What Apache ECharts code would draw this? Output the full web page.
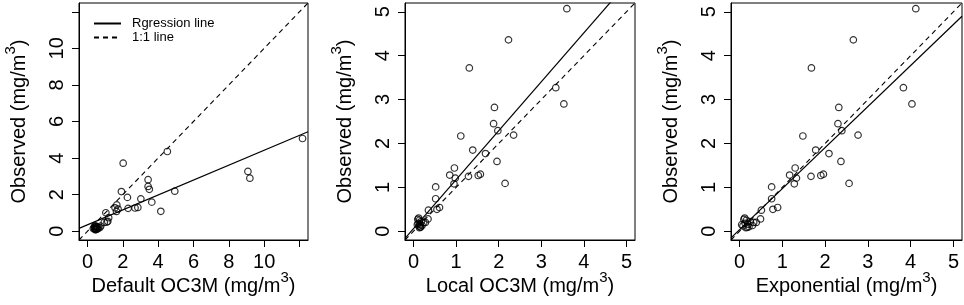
<!DOCTYPE html>
<html>
<head>
<meta charset="utf-8">
<script src="https://cdn.jsdelivr.net/npm/echarts@6/dist/echarts.min.js"></script>
<style>
  html, body { margin: 0; padding: 0; background: #fff; }
  #chart { width: 964px; height: 305px; }
</style>
</head>
<body>
<div id="chart"></div>
<script>
// observed chlorophyll (same for the three panels)
const observed = [5.07, 4.36, 3.72, 3.27, 2.90, 2.82, 2.45, 2.29, 2.19, 2.17,
  1.85, 1.77, 1.59, 1.44, 1.28, 1.21, 1.25, 1.27, 1.30, 1.08,
  1.09, 1.01, 0.74, 0.48, 0.50, 0.54, 0.28, 0.20,
  0.30, 0.27, 0.25, 0.22, 0.20, 0.18, 0.16, 0.15, 0.13, 0.12, 0.10, 0.09, 0.08]

// estimates from each algorithm
const defaultOC3M = [12.17, 4.52, 2.02, 9.08, 9.19, 3.43, 3.43, 3.50, 4.94, 1.92,
  2.26, 3.02, 3.64, 1.66, 1.56, 1.73, 2.30, 2.69, 2.85, 1.64,
  4.15, 1.04, 1.20, 0.95, 1.10, 1.15, 0.75, 0.70,
  0.45, 0.40, 0.50, 0.55, 0.62, 0.38, 0.48, 0.33, 0.58, 0.42, 0.52, 0.46, 0.44]
const localOC3M = [3.60, 2.23, 1.31, 3.34, 3.53, 1.90, 1.88, 1.98, 2.35, 1.11,
  1.39, 1.69, 1.96, 0.96, 0.85, 0.98, 1.29, 1.52, 1.57, 0.95,
  2.15, 0.52, 0.52, 0.35, 0.55, 0.61, 0.34, 0.28,
  0.12, 0.10, 0.14, 0.18, 0.24, 0.11, 0.15, 0.09, 0.20, 0.13, 0.17, 0.16, 0.14]
const exponential = [4.12, 2.66, 1.68, 3.83, 4.03, 2.32, 2.30, 2.39, 2.77, 1.48,
  1.78, 2.09, 2.37, 1.30, 1.17, 1.33, 1.67, 1.90, 1.96, 1.28,
  2.56, 0.75, 0.75, 0.51, 0.78, 0.89, 0.49, 0.39,
  0.12, 0.10, 0.16, 0.25, 0.33, 0.13, 0.20, 0.05, 0.30, 0.08, 0.22, 0.18, 0.15]

// fitted regression (observed = a + b * estimate)
const regIntercept = [0.35, 0.06, 0.035]
const regSlope = [0.408, 1.115, 0.935]

// axis limits (R pads the range by 4%)
const axisLimit = [12, 5, 5]
const tickValues = [[0, 2, 4, 6, 8, 10, 12], [0, 1, 2, 3, 4, 5], [0, 1, 2, 3, 4, 5]]
const labelValues = [[0, 2, 4, 6, 8, 10], [0, 1, 2, 3, 4, 5], [0, 1, 2, 3, 4, 5]]
const xNames = ['Default OC3M', 'Local OC3M', 'Exponential']

const estimates = [defaultOC3M, localOC3M, exponential]
const font = 'Liberation Sans, Arial, sans-serif'
// superscript "3": a smaller token pushed to the top of a taller line
const nameRich = {
  t: { fontSize: 20, fontFamily: font, color: '#000', lineHeight: 26, verticalAlign: 'bottom' },
  sup: { fontSize: 15, fontFamily: font, color: '#000', verticalAlign: 'top' }
}

const grids = [
  { left: 79, top: 3, width: 229, height: 237 },
  { left: 405, top: 3, width: 230, height: 237 },
  { left: 731, top: 3, width: 231, height: 237 }
]

function axisBase (i) {
  const pad = axisLimit[i] * 0.04
  return {
    type: 'value',
    gridIndex: i,
    min: -pad,
    max: axisLimit[i] + pad,
    splitLine: { show: false },
    axisLine: { show: true, onZero: false, lineStyle: { color: '#000', width: 1 } },
    axisTick: { show: true, length: 7, customValues: tickValues[i], lineStyle: { color: '#000' } },
    axisLabel: {
      customValues: labelValues[i],
      color: '#000',
      fontSize: 20,
      fontFamily: font,
      margin: 12
    },
    nameLocation: 'middle',
    nameMoveOverlap: false,
    nameTextStyle: { color: '#000', fontSize: 20, fontFamily: font, rich: nameRich }
  }
}

const xAxis = [0, 1, 2].map(i => Object.assign(axisBase(i), {
  name: '{t|' + xNames[i] + ' (mg/m}{sup|3}{t|)}',
  nameGap: 30
}))
const yAxis = [0, 1, 2].map(i => {
  const ax = axisBase(i)
  ax.axisLabel.rotate = 90
  return Object.assign(ax, { name: '{t|Observed (mg/m}{sup|3}{t|)}', nameGap: 50 })
})

const series = []
for (let i = 0; i < 3; i++) {
  const lo = -axisLimit[i] * 0.04
  const hi = axisLimit[i] * 1.04
  series.push({
    type: 'scatter',
    name: 'obs' + i,
    xAxisIndex: i,
    yAxisIndex: i,
    symbol: 'circle',
    symbolSize: 6.5,
    itemStyle: { color: 'rgba(0,0,0,0)', borderColor: '#000', borderWidth: 1.2 },
    data: estimates[i].map((v, k) => [v, observed[k]])
  })
  series.push({
    type: 'line',
    name: 'Rgression line',
    xAxisIndex: i,
    yAxisIndex: i,
    symbol: 'none',
    clip: true,
    lineStyle: { color: '#000', width: 1.2 },
    data: [[lo, regIntercept[i] + regSlope[i] * lo], [hi, regIntercept[i] + regSlope[i] * hi]]
  })
  series.push({
    type: 'line',
    name: '1:1 line',
    xAxisIndex: i,
    yAxisIndex: i,
    symbol: 'none',
    clip: true,
    lineStyle: { color: '#000', width: 1.1, type: [5, 4] },
    data: [[lo, lo], [hi, hi]]
  })
}

const chart = echarts.init(document.getElementById('chart'))
chart.setOption({
  animation: false,
  backgroundColor: '#fff',
  color: ['#000'],
  grid: grids.map(g => Object.assign({
    show: true,
    borderColor: '#000',
    borderWidth: 1,
    backgroundColor: 'transparent',
    containLabel: false,
    outerBoundsMode: 'none'
  }, g)),
  legend: {
    data: ['Rgression line', '1:1 line'],
    orient: 'vertical',
    left: 88,
    top: 12,
    itemWidth: 27,
    itemHeight: 12,
    itemGap: 1,
    selectedMode: false,
    itemStyle: { opacity: 0 },
    textStyle: { color: '#000', fontSize: 13, fontFamily: font, padding: [0, 0, 0, 6] }
  },
  xAxis: xAxis,
  yAxis: yAxis,
  series: series
})
</script>
</body>
</html>
